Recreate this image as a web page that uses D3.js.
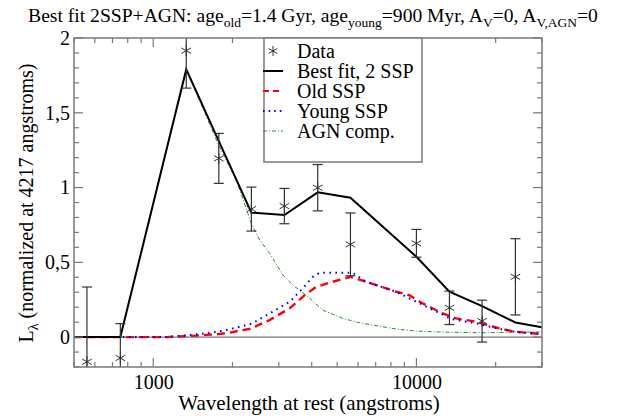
<!DOCTYPE html>
<html><head><meta charset="utf-8">
<script src="https://cdn.jsdelivr.net/npm/d3@7"></script>
<style>body{margin:0;background:#fff}svg{display:block}text{font-family:"Liberation Serif","Times New Roman",serif;fill:#000}</style>
</head><body>
<svg id="c" width="625" height="416"></svg>
<script>
// ---- data ----
const dataWl   = [560, 750, 1335, 1775, 2360, 3150, 4217, 5615, 10000, 13350, 17760, 23770];
const dataFlux = [-0.165, -0.14, 1.915, 1.195, 0.856, 0.876, 0.999, 0.62, 0.627, 0.196, 0.107, 0.403];
const dataErr  = [0.5, 0.23, 0.25, 0.167, 0.147, 0.118, 0.155, 0.21, 0.093, 0.112, 0.14, 0.255];

const fitWl   = [500, 560, 750, 1335, 1775, 2360, 3150, 4217, 5615, 10000, 13350, 17760, 23770, 30000];
const fitFlux = [0, 0, 0, 1.79, 1.31, 0.832, 0.816, 0.968, 0.932, 0.537, 0.303, 0.207, 0.098, 0.065];

const oldWl   = [500, 1120, 1460, 1590, 1775, 1950, 2190, 2390, 2465, 2770, 3300, 3760, 4160, 4810, 5615, 6445, 7675, 8375, 9400, 10560, 12590, 14150, 16850, 20650, 23750, 30000];
const oldFlux = [0, 0, 0.01, 0.015, 0.02, 0.03, 0.047, 0.058, 0.074, 0.114, 0.192, 0.28, 0.336, 0.37, 0.403, 0.37, 0.326, 0.303, 0.28, 0.225, 0.158, 0.125, 0.103, 0.058, 0.036, 0.02];

const youngWl   = [500, 1120, 1590, 1840, 2190, 2390, 2500, 2770, 3300, 3700, 4040, 4285, 5730, 6445, 8375, 10000, 12590, 13350, 14150, 16850, 17770, 20650, 23750, 30000];
const youngFlux = [0, 0, 0.025, 0.042, 0.074, 0.092, 0.114, 0.158, 0.236, 0.326, 0.403, 0.43, 0.43, 0.37, 0.303, 0.236, 0.15, 0.125, 0.115, 0.092, 0.082, 0.055, 0.035, 0.02];

const agnWl   = [500, 750, 1335, 1775, 2070, 2360, 2535, 2770, 3110, 3390, 3870, 4410, 5250, 6080, 7450, 8375, 10000, 13350, 17770, 30000];
const agnFlux = [0, 0, 1.79, 1.28, 1.05, 0.76, 0.65, 0.56, 0.415, 0.348, 0.27, 0.18, 0.125, 0.096, 0.069, 0.054, 0.04, 0.032, 0.029, 0.035];

const yMajor = [0, 0.5, 1, 1.5, 2];
const yLabels = ["0", "0,5", "1", "1,5", "2"];
const xMajor = [1000, 10000];
const xLabels = ["1000", "10000"];
const legendLabels = ["Data", "Best fit, 2 SSP", "Old SSP", "Young SSP", "AGN comp."];

// ---- layout ----
const L = 74, R = 542, T = 38, B = 367;
const x = d3.scaleLog().domain([500, 30000]).range([L, R]);
const y = d3.scaleLinear().domain([-0.2, 2]).range([B, T]);
const svg = d3.select("#c");
const frameCol = "#7a7a7a";

svg.append("defs").append("clipPath").attr("id", "clip")
  .append("rect").attr("x", L).attr("y", T).attr("width", R - L).attr("height", B - T);

// title
const title = svg.append("text").attr("x", 313).attr("y", 22).attr("text-anchor", "middle").style("font-size", "19.6px");
const tparts = [["Best fit 2SSP+AGN: age", 0], ["old", 1], ["=1.4 Gyr, age", 0], ["young", 1], ["=900 Myr, A", 0], ["V", 1], ["=0, A", 0], ["V,AGN", 1], ["=0", 0]];
let prevSub = 0;
tparts.forEach(([t, s]) => {
  const ts = title.append("tspan").text(t);
  const dy = (s ? 5 : 0) - (prevSub ? 5 : 0);
  if (dy) ts.attr("dy", dy);
  if (s) ts.style("font-size", "13.5px");
  prevSub = s;
});

// zero line
const g = svg.append("g").attr("clip-path", "url(#clip)");
g.append("line").attr("x1", L).attr("x2", R).attr("y1", y(0)).attr("y2", y(0)).attr("stroke", "#555").attr("stroke-width", 1);

// axes ticks (inside)
const xMinor = [];
[100, 1000, 10000].forEach(d => { for (let k = 1; k < 10; k++) { const v = d * k; if (v >= 500 && v <= 30000) xMinor.push(v); } });
const yMinor = d3.range(-2, 21).map(i => i / 10);
const axes = svg.append("g");
xMinor.forEach(v => {
  const isMaj = xMajor.includes(v);
  const len = isMaj ? 9 : 5;
  axes.append("line").attr("x1", x(v)).attr("x2", x(v)).attr("y1", B).attr("y2", B - len).attr("stroke", frameCol).attr("stroke-width", 1.2);
  axes.append("line").attr("x1", x(v)).attr("x2", x(v)).attr("y1", T).attr("y2", T + len).attr("stroke", frameCol).attr("stroke-width", 1.2);
});
yMinor.forEach(v => {
  const isMaj = Math.abs(v * 2 - Math.round(v * 2)) < 1e-9;
  const len = isMaj ? 9 : 5;
  axes.append("line").attr("x1", L).attr("x2", L + len).attr("y1", y(v)).attr("y2", y(v)).attr("stroke", frameCol).attr("stroke-width", 1.2);
  axes.append("line").attr("x1", R).attr("x2", R - len).attr("y1", y(v)).attr("y2", y(v)).attr("stroke", frameCol).attr("stroke-width", 1.2);
});
// tick labels via d3 axes (no tick lines)
const xa = svg.append("g").attr("transform", `translate(0,${B})`)
  .call(d3.axisBottom(x).tickValues(xMajor).tickFormat((d, i) => xLabels[i]).tickSize(0).tickPadding(8));
xa.select(".domain").remove();
xa.selectAll("text").style("font-size", "20px").attr("font-family", null);
const ya = svg.append("g").attr("transform", `translate(${L},0)`)
  .call(d3.axisLeft(y).tickValues(yMajor).tickFormat((d, i) => yLabels[i]).tickSize(0).tickPadding(4));
ya.select(".domain").remove();
ya.selectAll("text").style("font-size", "20px").attr("font-family", null);

// axis labels
svg.append("text").attr("x", 309).attr("y", 410).attr("text-anchor", "middle").style("font-size", "21px").text("Wavelength at rest (angstroms)");
const yl = svg.append("text").attr("transform", "translate(33,203) rotate(-90)").attr("text-anchor", "middle").style("font-size", "20px");
yl.append("tspan").text("L");
yl.append("tspan").text("λ").attr("dy", 5).style("font-size", "14px");
yl.append("tspan").text(" (normalized at 4217 angstroms)").attr("dy", -5);

// series lines
const line = d3.line().x(d => x(d[0])).y(d => y(d[1]));
const zip = (a, b) => a.map((v, i) => [v, b[i]]);
g.append("path").datum(zip(agnWl, agnFlux)).attr("d", line).attr("fill", "none").attr("stroke", "#2e8b2e").attr("stroke-width", 1).attr("stroke-dasharray", "4,2,1,2");
g.append("path").datum(zip(oldWl, oldFlux)).attr("d", line).attr("fill", "none").attr("stroke", "#ff0000").attr("stroke-width", 2.4).attr("stroke-dasharray", "8,5");
g.append("path").datum(zip(youngWl, youngFlux)).attr("d", line).attr("fill", "none").attr("stroke", "#0000ff").attr("stroke-width", 2).attr("stroke-dasharray", "1.6,4.5");
g.append("path").datum(zip(fitWl, fitFlux)).attr("d", line).attr("fill", "none").attr("stroke", "#000").attr("stroke-width", 2);

// error bars + stars
const errCol = "#333";
function star(sel, cx, cy, r) {
  [90, 30, 150].forEach(a => {
    const rad = a * Math.PI / 180, dx = r * Math.cos(rad), dy = r * Math.sin(rad);
    sel.append("line").attr("x1", cx - dx).attr("x2", cx + dx).attr("y1", cy - dy).attr("y2", cy + dy).attr("stroke", errCol).attr("stroke-width", 1);
  });
}
dataWl.forEach((w, i) => {
  const cx = x(w), y0 = y(dataFlux[i] - dataErr[i]), y1 = y(dataFlux[i] + dataErr[i]);
  g.append("line").attr("x1", cx).attr("x2", cx).attr("y1", y0).attr("y2", y1).attr("stroke", errCol).attr("stroke-width", 1.2);
  [y0, y1].forEach(yy => g.append("line").attr("x1", cx - 5).attr("x2", cx + 5).attr("y1", yy).attr("y2", yy).attr("stroke", errCol).attr("stroke-width", 1.2));
  star(g, cx, y(dataFlux[i]), 5.5);
});

// frame
svg.append("rect").attr("x", L).attr("y", T).attr("width", R - L).attr("height", B - T).attr("fill", "none").attr("stroke", frameCol).attr("stroke-width", 1.5);

// legend
const lg = svg.append("g");
lg.append("rect").attr("x", 264).attr("y", 38).attr("width", 158).attr("height", 124).attr("fill", "#fff").attr("stroke", frameCol).attr("stroke-width", 1.5);
const rowY = [51, 71, 91, 111, 131];
legendLabels.forEach((t, i) => {
  lg.append("text").attr("x", 297).attr("y", rowY[i] + 7).style("font-size", "20px").text(t);
});
star(lg, 273, rowY[0], 5);
lg.append("line").attr("x1", 263).attr("x2", 283).attr("y1", rowY[1]).attr("y2", rowY[1]).attr("stroke", "#000").attr("stroke-width", 2);
lg.append("line").attr("x1", 263).attr("x2", 283).attr("y1", rowY[2]).attr("y2", rowY[2]).attr("stroke", "#ff0000").attr("stroke-width", 2).attr("stroke-dasharray", "6,4");
lg.append("line").attr("x1", 263).attr("x2", 283).attr("y1", rowY[3]).attr("y2", rowY[3]).attr("stroke", "#0000ff").attr("stroke-width", 2).attr("stroke-dasharray", "1.6,4");
lg.append("line").attr("x1", 263).attr("x2", 283).attr("y1", rowY[4]).attr("y2", rowY[4]).attr("stroke", "#2e8b2e").attr("stroke-width", 1).attr("stroke-dasharray", "4,2,1,2");
</script>
</body></html>
